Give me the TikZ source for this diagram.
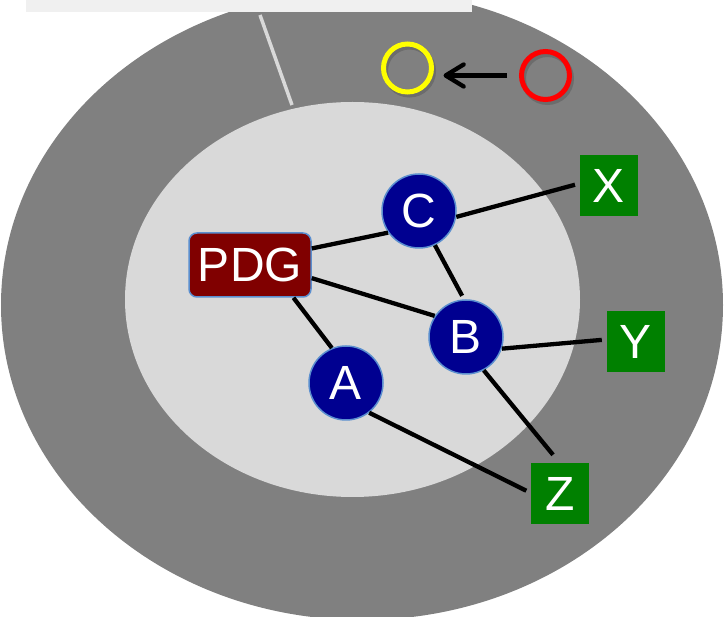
\documentclass[tikz,border=0pt]{standalone}
\usepackage{fontspec}
\setmainfont{Liberation Sans}
\usepackage{xcolor}
\usepackage{tikz}
\usetikzlibrary{arrows.meta}
\definecolor{ringc}{HTML}{808080}
\definecolor{corec}{HTML}{D9D9D9}
\definecolor{capc}{HTML}{F0F0F0}
\definecolor{navyc}{HTML}{000090}
\definecolor{maroonc}{HTML}{800000}
\definecolor{leafc}{HTML}{008000}
\definecolor{rimc}{HTML}{5B8FCF}
\definecolor{sunc}{HTML}{FFFF00}
\definecolor{alertc}{HTML}{FF0000}
\definecolor{dimc}{HTML}{6C6C6C}

\begin{document}
\begin{tikzpicture}[x=1pt, y=-1pt,
    every node/.style={text=white, font=\fontsize{48}{52}\selectfont, inner sep=0pt},
    peer/.style={circle, fill=navyc, draw=rimc, line width=1.5pt, minimum size=74pt},
    hub/.style={rectangle, rounded corners=8pt, fill=maroonc, draw=rimc, line width=1.5pt, minimum width=122pt, minimum height=64pt},
    leaf/.style={rectangle, fill=leafc, minimum width=58pt, minimum height=61pt},
    beacon/.style={circle, line width=5pt, minimum size=48pt},
    wire/.style={black, line width=4.3pt}]
    \clip (0,0) rectangle (724,617);
    \fill[ringc] (362,305) ellipse [x radius=361, y radius=315];
    \fill[corec] (352.5,299.5) ellipse [x radius=227.5, y radius=197.5];
    \fill[capc] (26,0) rectangle (472,12);
    \coordinate (tick top) at (260,15);
    \coordinate (tick foot) at (292,105);
    \draw[corec, line width=3.5pt] (tick top) -- (tick foot);
    \draw[dimc, line width=5pt] (409.5,71) circle [radius=24];
    \draw[dimc, line width=5pt] (547.5,78.5) circle [radius=24];

    \node[hub] (pdg) at (250,265) {PDG};
    \node[peer] (C) at (419,211) {C};
    \node[peer] (B) at (466,337) {B};
    \node[peer] (A) at (346,383) {A};
    \node[leaf] (X) at (609,186) {X};
    \node[leaf] (Y) at (636,342) {Y};
    \node[leaf] (Z) at (560,494) {Z};
    \node[beacon, draw=sunc] (yellow) at (407.5,68) {};
    \node[beacon, draw=alertc] (red) at (545.5,75.5) {};

    \draw[wire] (pdg.15) -- (C.215);
    \draw[wire] (pdg.-12) -- (B.146);
    \draw[wire] (pdg.-37) -- (A.112);
    \draw[wire, shorten >=4pt] (C.-65) -- (B.93);
    \draw[wire, shorten >=5pt] (C.-9) -- (X.175);
    \draw[wire, shorten >=5pt] (B.-18) -- (Y.175);
    \draw[wire, shorten >=11pt] (B.-62) -- (Z.90);
    \draw[wire, shorten >=5pt] (A.-52) -- (Z.178);
    \draw[wire, -{Straight Barb[length=18pt, width=22pt, round]}, shorten <=12pt, shorten >=36pt] (red) -- (yellow |- red);
  \end{tikzpicture}
\end{document}
